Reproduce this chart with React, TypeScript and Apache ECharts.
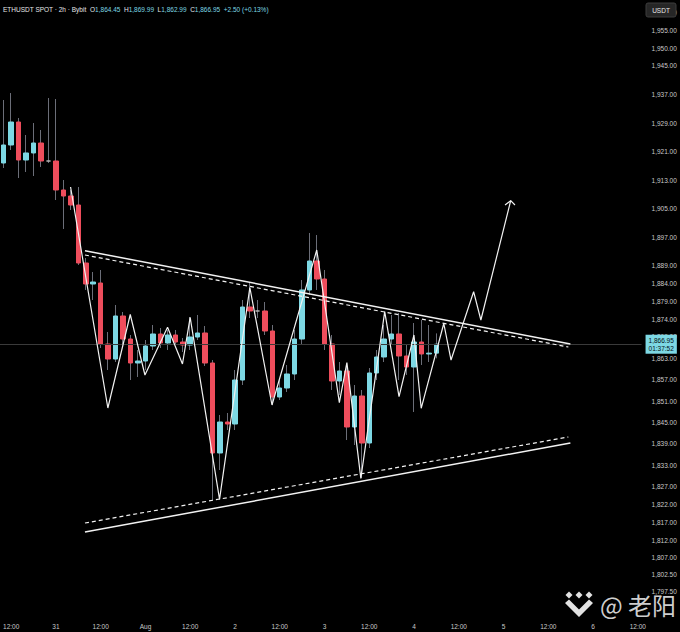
import React, { useEffect, useRef } from 'react';
import * as echarts from 'echarts';

// ---- candle data (2h candles starting Jul 30 10:00) ----
const opens = [1917.78, 1922.83, 1929.28, 1918.62, 1920.59, 1923.39, 1918.34, 1918.34, 1910.21, 1908.52,
  1906.0, 1889.73, 1883.84, 1884.12, 1867.01, 1862.8, 1874.87, 1868.41, 1861.68, 1862.24,
  1866.45, 1869.82, 1867.29, 1869.54, 1867.57, 1866.73, 1868.97, 1870.1, 1861.68, 1836.44,
  1845.13, 1844.57, 1856.91, 1877.39, 1876.27, 1876.27, 1870.66, 1852.15, 1854.67, 1858.6,
  1868.41, 1882.16, 1890.29, 1885.24, 1867.01, 1856.63, 1859.44, 1843.73, 1852.43, 1839.24,
  1858.88, 1863.37, 1868.41, 1869.82, 1863.65, 1860.56, 1867.57, 1864.21, 1864.45];
const closes = [1922.83, 1929.28, 1918.62, 1920.59, 1923.39, 1918.34, 1918.34, 1910.21, 1908.52, 1906.0,
  1889.73, 1883.84, 1884.4, 1867.01, 1862.8, 1874.87, 1868.41, 1861.68, 1862.24, 1866.45,
  1869.82, 1867.29, 1869.54, 1867.57, 1866.73, 1868.97, 1870.1, 1861.68, 1836.44, 1845.13,
  1844.57, 1856.91, 1877.39, 1876.27, 1876.27, 1870.66, 1852.15, 1854.67, 1858.6, 1868.41,
  1882.16, 1890.29, 1885.24, 1867.01, 1856.63, 1859.44, 1843.73, 1852.43, 1839.24, 1858.88,
  1863.37, 1868.41, 1869.82, 1863.65, 1860.56, 1867.57, 1864.21, 1864.45, 1866.95];
const lows = [1916.38, 1921.43, 1913.57, 1915.26, 1914.13, 1916.66, 1917.78, 1907.4, 1899.27, 1904.6,
  1889.17, 1882.16, 1879.35, 1865.89, 1859.72, 1861.96, 1866.73, 1856.91, 1857.76, 1859.72,
  1865.33, 1865.89, 1865.33, 1866.73, 1864.77, 1865.33, 1868.13, 1860.84, 1823.25, 1831.67,
  1842.89, 1842.89, 1855.51, 1874.3, 1874.3, 1869.54, 1849.9, 1851.3, 1853.55, 1856.91,
  1866.73, 1880.76, 1882.16, 1865.33, 1854.11, 1852.71, 1840.08, 1838.68, 1829.43, 1837.84,
  1856.91, 1861.96, 1866.73, 1856.91, 1858.32, 1847.94, 1861.12, 1861.96, 1862.99];
const highs = [1935.45, 1937.41, 1930.4, 1925.63, 1929.0, 1927.04, 1936.01, 1935.73, 1913.01, 1910.21,
  1911.05, 1891.13, 1887.21, 1887.77, 1870.38, 1877.95, 1875.99, 1869.54, 1865.33, 1868.13,
  1872.34, 1871.5, 1870.94, 1870.94, 1868.69, 1874.58, 1875.15, 1872.06, 1862.52, 1847.1,
  1847.66, 1859.72, 1879.35, 1884.12, 1879.35, 1878.79, 1872.34, 1856.91, 1861.12, 1870.94,
  1884.96, 1898.15, 1897.58, 1887.77, 1869.54, 1861.96, 1861.12, 1855.51, 1854.11, 1860.28,
  1865.33, 1872.34, 1875.15, 1875.71, 1866.73, 1872.9, 1873.74, 1872.34, 1869.99];

// price axis tick labels
const yTicks = [1960, 1955, 1950, 1945, 1937, 1929, 1921, 1913, 1905, 1897, 1889, 1884, 1879, 1874, 1869,
  1863, 1857, 1851, 1845, 1839, 1833, 1827, 1822, 1817, 1812, 1807, 1802.5, 1797.5];

// drawings (x in candle-index units, y in price)
const upperSolid = [[10.89, 1893.18], [75.96, 1867.01]];
const upperDashed = [[10.89, 1891.97], [75.69, 1866.17]];
const lowerSolid = [[10.89, 1814.28], [75.96, 1839.24]];
const lowerDashed = [[10.89, 1816.8], [75.69, 1840.93]];
const zigzag = [[8.96, 1911.05], [13.96, 1849.06], [16.96, 1875.29], [18.93, 1858.32], [21.96, 1871.69],
  [23.96, 1861.4], [24.99, 1874.5], [28.93, 1823.45], [32.99, 1882.86], [35.96, 1849.9], [41.96, 1893.38],
  [44.99, 1850.55], [46.0, 1861.77], [47.87, 1829.34], [51.07, 1876.07], [52.99, 1852.23], [54.99, 1869.54],
  [55.96, 1848.98], [58.99, 1872.76], [59.96, 1862.52], [62.99, 1881.68], [63.96, 1873.74], [67.96, 1907.21]];
const arrowHead = [[67.2, 1906.0], [67.96, 1907.21], [68.53, 1906.0]];

const lastPrice = 1866.95;
const N_CATS = 86;

const UP = '#7dd8e4';
const DOWN = '#ee4d5c';
const TXT = '#c9c9c9';
const FONT = 'Liberation Sans, Arial, sans-serif';

function buildCategories(): string[] {
  const out: string[] = [];
  for (let k = 0; k < N_CATS; k++) {
    const h = 10 + 2 * k;
    let day = 30 + Math.floor(h / 24);
    let month = 7;
    if (day > 31) { day -= 31; month = 8; }
    const hh = h % 24;
    out.push(`${String(month).padStart(2, '0')}-${String(day).padStart(2, '0')} ${String(hh).padStart(2, '0')}:00`);
  }
  return out;
}
const categories = buildCategories();

function fmtPrice(v: number): string {
  const s = v.toFixed(2);
  const [a, b] = s.split('.');
  return a.replace(/\B(?=(\d{3})+(?!\d))/g, ',') + '.' + b;
}

function fmtX(c: string): string {
  const month = parseInt(c.slice(0, 2), 10);
  const day = parseInt(c.slice(3, 5), 10);
  const hh = parseInt(c.slice(6, 8), 10);
  if (hh === 12) return '12:00';
  if (hh === 0) {
    if (month === 8 && day === 1) return 'Aug';
    return String(day);
  }
  return '';
}

export default function App() {
  const ref = useRef<HTMLDivElement>(null);
  useEffect(() => {
    if (!ref.current) return;
    const chart = echarts.init(ref.current, null, { renderer: 'svg' });
    const wickData = opens.map((o, i) => [o, closes[i], lows[i], highs[i]]);
    const bodyData = opens.map((o, i) => [o, closes[i], Math.min(o, closes[i]), Math.max(o, closes[i])]);
    const lineSeries = (data: number[][], width: number, dashed: boolean) => ({
      type: 'line',
      xAxisIndex: 1,
      yAxisIndex: 0,
      data,
      showSymbol: false,
      symbol: 'none',
      z: 5,
      lineStyle: { color: '#f2f2f2', width, type: dashed ? [4, 3] : 'solid' },
      silent: true,
    });
    const option: any = {
      animation: false,
      backgroundColor: '#000',
      textStyle: { fontFamily: FONT },
      title: {
        left: 3,
        top: 6,
        padding: 0,
        text: '{w|ETHUSDT SPOT · 2h · Bybit}  {w|O}{c|1,864.45}  {w|H}{c|1,869.99}  {w|L}{c|1,862.99}  {w|C}{c|1,866.95}  {c|+2.50 (+0.13%)}',
        textStyle: {
          fontSize: 6.5,
          color: '#e0e0e0',
          fontWeight: 'normal',
          rich: {
            w: { color: '#e6e6e6', fontSize: 6.5, fontFamily: FONT },
            c: { color: UP, fontSize: 6.5, fontFamily: FONT },
          },
        },
      },
      grid: { left: -3.45, top: 0, width: 645, height: 615 },
      xAxis: [
        {
          type: 'category',
          data: categories,
          boundaryGap: true,
          axisLine: { show: false },
          axisTick: { show: false },
          splitLine: { show: false },
          axisLabel: {
            interval: (idx: number) => idx % 6 === 1,
            formatter: (v: string) => fmtX(v),
            color: TXT,
            fontSize: 6.5,
            margin: 8,
          },
        },
        { type: 'value', min: -0.5, max: N_CATS - 0.5, show: false },
      ],
      yAxis: {
        type: 'value',
        position: 'right',
        min: 1791,
        max: 1963.5,
        interval: 0.5,
        axisLine: { show: false },
        axisTick: { show: false },
        splitLine: { show: false },
        axisLabel: {
          color: TXT,
          fontSize: 6.5,
          margin: 10,
          align: 'left',
          formatter: (v: number) => (yTicks.some((t) => Math.abs(t - v) < 0.01) ? fmtPrice(v) : ''),
        },
      },
      series: [
        {
          type: 'candlestick',
          xAxisIndex: 0,
          data: wickData,
          barWidth: 1,
          z: 2,
          silent: true,
          itemStyle: {
            color: '#6b6e78', color0: '#6b6e78', borderColor: '#6b6e78', borderColor0: '#6b6e78',
            borderColorDoji: '#6b6e78', borderWidth: 1,
          },
        },
        {
          type: 'candlestick',
          xAxisIndex: 0,
          data: bodyData,
          barWidth: 5,
          z: 3,
          silent: true,
          itemStyle: {
            color: UP, color0: DOWN, borderColor: UP, borderColor0: DOWN,
            borderColorDoji: '#b5b5b5', borderWidth: 1,
          },
          markLine: {
            silent: true,
            symbol: ['none', 'none'],
            lineStyle: { color: '#3a3a3a', width: 1, type: 'solid' },
            data: [{ yAxis: lastPrice }],
            label: {
              show: true,
              position: 'end',
              distance: 4,
              formatter: fmtPrice(lastPrice) + '\n01:37:52',
              color: '#061014',
              backgroundColor: UP,
              fontSize: 6.5,
              lineHeight: 8,
              padding: [2, 3, 1, 3],
              fontFamily: FONT,
            },
          },
        },
        lineSeries(upperSolid, 1.5, false),
        lineSeries(upperDashed, 1.2, true),
        lineSeries(lowerSolid, 1.5, false),
        lineSeries(lowerDashed, 1.2, true),
        lineSeries(zigzag, 1.2, false),
        lineSeries(arrowHead, 1.2, false),
      ],
      graphic: [
        {
          type: 'rect',
          shape: { x: 646, y: 3, width: 30, height: 14, r: 2 },
          style: { fill: '#262626', stroke: '#3c3c3c', lineWidth: 1 },
          z: 100,
        },
        {
          type: 'text',
          x: 661,
          y: 10,
          style: { text: 'USDT', fill: '#e6e6e6', fontSize: 6.5, fontFamily: FONT, align: 'center', verticalAlign: 'middle' },
          z: 101,
        },
        {
          type: 'group',
          z: 100,
          children: [
            { type: 'polygon', shape: { points: [[569, 591.5], [572.5, 595], [569, 598.5], [565.5, 595]] }, style: { fill: '#e2e2e2' } },
            { type: 'polygon', shape: { points: [[579, 591.5], [582.5, 595], [579, 598.5], [575.5, 595]] }, style: { fill: '#e2e2e2' } },
            { type: 'polygon', shape: { points: [[589, 591.5], [592.5, 595], [589, 598.5], [585.5, 595]] }, style: { fill: '#e2e2e2' } },
            { type: 'polygon', shape: { points: [[565, 603], [569, 599.5], [579, 609.5], [589, 599.5], [593, 603], [579, 617]] }, style: { fill: '#e2e2e2' } },
          ],
        },
        {
          type: 'text',
          x: 600,
          y: 604,
          z: 100,
          style: {
            text: '@ 老阳',
            fill: '#e4e4e4',
            opacity: 0.92,
            fontSize: 24,
            fontFamily: 'Noto Sans CJK SC, Noto Sans, sans-serif',
            verticalAlign: 'middle',
          },
        },
      ],
    };
    chart.setOption(option);
    return () => chart.dispose();
  }, []);
  return (
    <div
      ref={ref}
      style={{ position: 'fixed', left: 0, top: 0, width: 680, height: 632, background: '#000' }}
    />
  );
}
